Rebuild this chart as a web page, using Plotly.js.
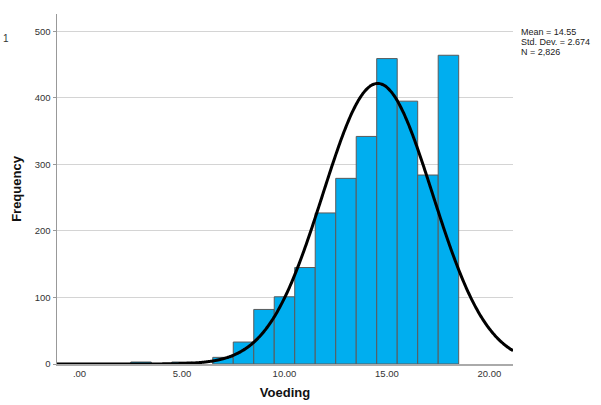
<!DOCTYPE html>
<html>
<head>
<meta charset="utf-8">
<script src="https://cdn.plot.ly/plotly-3.0.1.min.js"></script>
<style>html,body{margin:0;padding:0;background:#fff;}#chart{width:601px;height:405px;}</style>
</head>
<body>
<div id="chart"></div>
<script>
// Histogram bins (bin centres, width 1) and counts
const binCenters = [3, 5, 7, 8, 9, 10, 11, 12, 13, 14, 15, 16, 17, 18];
const binCounts  = [3, 3, 10, 33, 82, 101, 145, 227, 279, 342, 459, 395, 284, 464];
const binWidth = 1;

// Statistics shown on the chart (normal curve is drawn from these)
const meanVal = 14.55;
const sdVal = 2.674;
const nVal = 2826;
const statLines = ["Mean = 14.55", "Std. Dev. = 2.674", "N = 2,826"];

// Axis tick labels
const xTickVals = [0, 5, 10, 15, 20];
const xTickText = [".00", "5.00", "10.00", "15.00", "20.00"];
const yTickVals = [0, 100, 200, 300, 400, 500];

const xMin = -1.1, xMax = 21.15;

// Normal curve scaled to counts
const curveX = [], curveY = [];
for (let i = 0; i <= 445; i++) {
  const x = xMin + (xMax - xMin) * i / 445;
  const z = (x - meanVal) / sdVal;
  curveX.push(x);
  curveY.push(nVal * binWidth / (sdVal * Math.sqrt(2 * Math.PI)) * Math.exp(-0.5 * z * z));
}

const traces = [
  {
    type: 'bar', x: binCenters, y: binCounts, width: binWidth,
    marker: {color: 'rgb(0,174,239)', line: {color: '#5a5a5a', width: 1}},
    hoverinfo: 'x+y', showlegend: false
  },
  {
    type: 'scatter', mode: 'lines', x: curveX, y: curveY,
    line: {color: '#000', width: 3, shape: 'spline'},
    hoverinfo: 'skip', showlegend: false
  }
];

const L = 57, R = 513, T = 14, B = 364;
function px(p) { return (p - L) / (R - L); }
function py(p) { return (B - p) / (B - T); }

const annotations = statLines.map((s, i) => ({
  text: s, xref: 'paper', yref: 'paper', x: px(519), y: py(32 + i * 9.8),
  xanchor: 'left', yanchor: 'middle', showarrow: false,
  font: {family: 'Liberation Sans, Arial, sans-serif', size: 9, color: '#222'}
}));
annotations.push({
  text: '1', xref: 'paper', yref: 'paper', x: px(1), y: py(38),
  xanchor: 'left', yanchor: 'middle', showarrow: false,
  font: {family: 'Liberation Sans, Arial, sans-serif', size: 10, color: '#333'}
});

const layout = {
  width: 601, height: 405,
  margin: {l: L, r: 601 - R, t: T, b: 405 - B, pad: 0},
  paper_bgcolor: '#fff', plot_bgcolor: '#fff',
  bargap: 0,
  font: {family: 'Liberation Sans, Arial, sans-serif', color: '#333', size: 10},
  xaxis: {
    range: [xMin, xMax], tickvals: xTickVals, ticktext: xTickText,
    showgrid: false, zeroline: false, showline: true, linecolor: '#aaa', linewidth: 1.5,
    ticks: '', tickfont: {size: 9.5, color: '#333'},
    title: {text: '<b>Voeding</b>', font: {size: 13, color: '#111'}, standoff: 10}
  },
  yaxis: {
    range: [0, 526], tickvals: yTickVals,
    showgrid: true, gridcolor: '#d4d4d4', gridwidth: 1, zeroline: false,
    showline: true, linecolor: '#999', linewidth: 1.5,
    ticks: 'outside', ticklen: 3, tickcolor: '#999',
    tickfont: {size: 9.5, color: '#333'},
    title: {text: '<b>Frequency</b>', font: {size: 13, color: '#111'}, standoff: 10}
  },
  annotations: annotations
};

Plotly.newPlot('chart', traces, layout, {displayModeBar: false, staticPlot: true});
</script>
</body>
</html>
